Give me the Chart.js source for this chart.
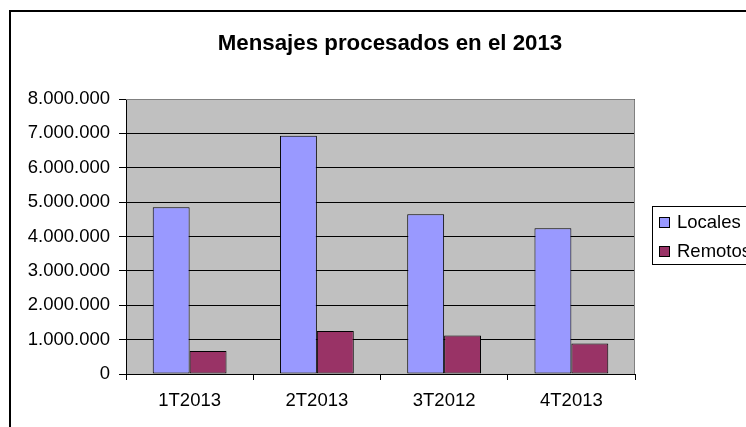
<!DOCTYPE html>
<html>
<head>
<meta charset="utf-8">
<title>Mensajes procesados en el 2013</title>
<script src="https://cdn.jsdelivr.net/npm/chart.js@4/dist/chart.umd.min.js"></script>
<style>
    html, body { margin: 0; padding: 0; background: #fff; overflow: hidden; }
    #box { position: relative; width: 746px; height: 427px; }
</style>
</head>
<body>
<div id="box"><canvas id="chart"></canvas></div>
<script>
//---------
//Datos
//---------

const TITLE = "Mensajes procesados en el 2013";
const CATEGORIES = ["1T2013", "2T2013", "3T2012", "4T2013"];
const LOCALES = [4850000, 6930000, 4650000, 4240000];
const REMOTOS = [670000, 1250000, 1120000, 890000];
const Y_MIN = 0;
const Y_MAX = 8000000;
const Y_STEP = 1000000;

//---------
//Estilos
//---------

const FONT = "'Liberation Sans', Arial, sans-serif";
const TICK_SIZE = 18.5;

//Miles con punto: 8000000 -> 8.000.000
const fmtDots = v => String(Math.round(v)).replace(/\B(?=(\d{3})+(?!\d))/g, ".");

//Marco del gráfico, título, fondo del área y borde gris
const framePlugin = {
    id: "frame",
    beforeDraw(chart) {
        const { ctx, chartArea: a } = chart;
        ctx.save();
        ctx.fillStyle = "#fff";
        ctx.fillRect(0, 0, chart.width, chart.height);
        ctx.strokeStyle = "#000";
        ctx.lineWidth = 2;
        ctx.strokeRect(10, 11, chart.width + 20, chart.height + 20);
        //Título centrado sobre todo el marco (incluida la leyenda)
        ctx.fillStyle = "#000";
        ctx.font = "bold 22.3px " + FONT;
        ctx.textAlign = "center";
        ctx.textBaseline = "middle";
        ctx.fillText(TITLE, 390, 44);
        ctx.fillStyle = "#C0C0C0";
        ctx.fillRect(a.left, a.top, a.right - a.left, a.bottom - a.top);
        ctx.restore();
    },
    afterDatasetsDraw(chart) {
        const { ctx, chartArea: a } = chart;
        ctx.save();
        ctx.strokeStyle = "#808080";
        ctx.lineWidth = 1;
        ctx.beginPath();
        ctx.moveTo(a.left, a.top + 0.5);
        ctx.lineTo(a.right - 0.5, a.top + 0.5);
        ctx.lineTo(a.right - 0.5, a.bottom);
        ctx.stroke();
        ctx.restore();
    }
};

//Leyenda con recuadro (cortada a la derecha como en el original)
const legendBoxPlugin = {
    id: "legendBox",
    afterDraw(chart) {
        const { ctx } = chart;
        const x = 652, top = 206, bottom = 264;
        ctx.save();
        ctx.fillStyle = "#fff";
        ctx.fillRect(x, top, chart.width, bottom - top);
        ctx.strokeStyle = "#000";
        ctx.lineWidth = 1;
        ctx.strokeRect(x + 0.5, top + 0.5, chart.width, bottom - top);
        ctx.font = TICK_SIZE + "px " + FONT;
        ctx.textBaseline = "middle";
        ctx.textAlign = "left";
        chart.data.datasets.forEach((ds, i) => {
            const cy = 222 + i * 29;
            ctx.fillStyle = ds.backgroundColor;
            ctx.fillRect(659.5, cy - 4.5, 10, 10);
            ctx.strokeStyle = "#000";
            ctx.strokeRect(659.5, cy - 4.5, 10, 10);
            ctx.fillStyle = "#000";
            ctx.fillText(ds.label, 677, cy + 1);
        });
        ctx.restore();
    }
};

new Chart(document.getElementById("chart"), {
    type: "bar",
    data: {
        labels: CATEGORIES,
        datasets: [
            { label: "Locales", data: LOCALES, backgroundColor: "#9999FF" },
            { label: "Remotos", data: REMOTOS, backgroundColor: "#993366" }
        ]
    },
    options: {
        responsive: true,
        maintainAspectRatio: false,
        animation: false,
        datasets: {
            bar: {
                borderColor: "#000",
                borderWidth: 1,
                borderSkipped: false,
                categoryPercentage: 0.58,
                barPercentage: 1
            }
        },
        layout: { padding: { left: 0, right: 111, top: 99, bottom: 0 } },
        plugins: {
            legend: { display: false },
            tooltip: { enabled: false },
            title: { display: false }
        },
        scales: {
            x: {
                afterFit: s => { s.height = 53; },
                grid: {
                    display: true,
                    drawOnChartArea: false,
                    drawTicks: true,
                    tickLength: 6,
                    color: "#000",
                    offset: true
                },
                border: { display: true, color: "#000", width: 1 },
                ticks: {
                    color: "#000",
                    padding: 10,
                    font: { family: FONT, size: TICK_SIZE }
                }
            },
            y: {
                min: Y_MIN,
                max: Y_MAX,
                afterFit: s => { s.width = 126; },
                grid: {
                    color: "#000",
                    lineWidth: 1,
                    drawTicks: true,
                    tickLength: 7
                },
                border: { display: true, color: "#000", width: 1 },
                ticks: {
                    stepSize: Y_STEP,
                    color: "#000",
                    padding: 9,
                    font: { family: FONT, size: TICK_SIZE },
                    callback: v => fmtDots(v)
                }
            }
        }
    },
    plugins: [framePlugin, legendBoxPlugin]
});
</script>
</body>
</html>
